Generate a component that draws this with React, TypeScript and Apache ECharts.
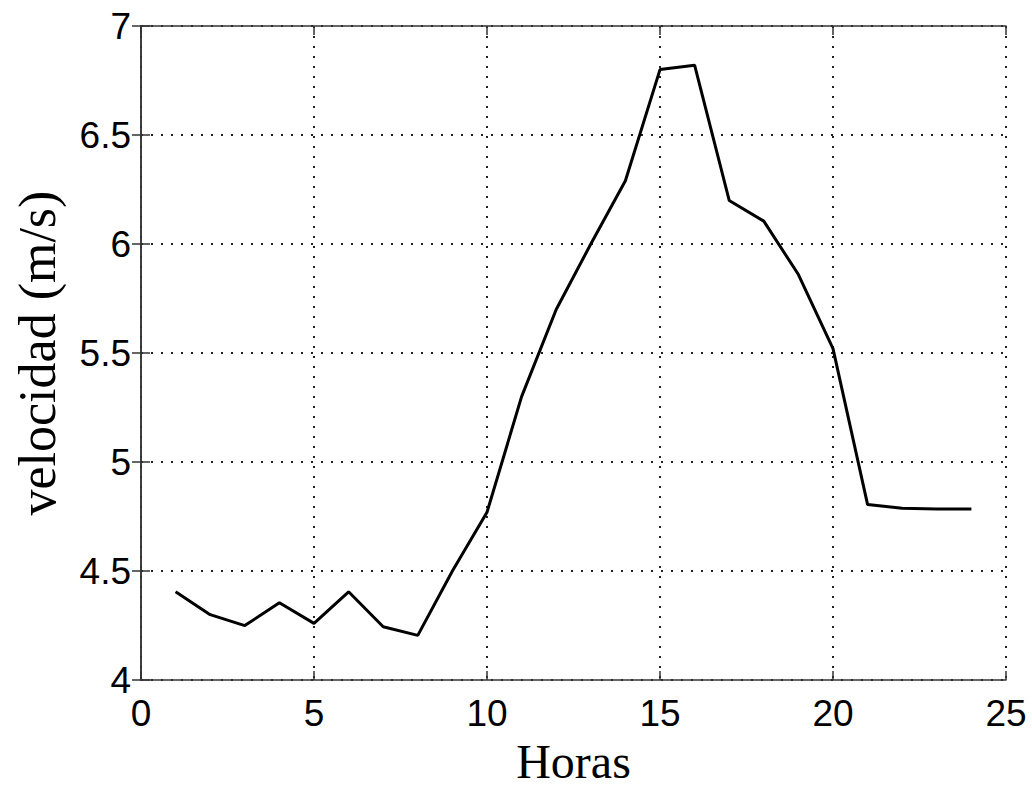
import React, { useEffect, useRef } from "react";
import * as echarts from "echarts";

const hours = [1, 2, 3, 4, 5, 6, 7, 8, 9, 10, 11, 12, 13, 14, 15, 16, 17, 18, 19, 20, 21, 22, 23, 24];
const velocity = [4.405, 4.3, 4.25, 4.355, 4.26, 4.405, 4.245, 4.205, 4.5, 4.77, 5.3, 5.7, 6.0, 6.29, 6.8, 6.82, 6.2, 6.105, 5.86, 5.52, 4.805, 4.788, 4.785, 4.785];
const xTitle = "Horas";
const yTitle = "velocidad (m/s)";

export default function App() {
  const ref = useRef<HTMLDivElement>(null);
  useEffect(() => {
    if (!ref.current) return;
    const chart = echarts.init(ref.current, undefined, { renderer: "svg" });
    const tickFont = { fontFamily: "Liberation Sans, Arial, sans-serif", fontSize: 37, color: "#000" };
    const axisLine = { show: true, lineStyle: { color: "#333", width: 1.5 } };
    const tick = { show: true, inside: true, length: 9, lineStyle: { color: "#333", width: 1.5 } };
    const split = { show: true, lineStyle: { color: "#222", type: [2, 8] as any, width: 2 } };
    chart.setOption({
      animation: false,
      backgroundColor: "#fff",
      grid: { left: 141, right: 26, top: 26, bottom: 105 },
      xAxis: [
        {
          type: "value",
          min: 0,
          max: 25,
          interval: 5,
          position: "bottom",
          axisLine,
          axisTick: tick,
          axisLabel: { ...tickFont, margin: 15 },
          splitLine: split,
          name: xTitle,
          nameLocation: "middle",
          nameGap: 52,
          nameTextStyle: { fontFamily: "Liberation Serif, Times New Roman, serif", fontSize: 48, color: "#000" },
        },
        {
          type: "value",
          min: 0,
          max: 25,
          interval: 5,
          position: "top",
          axisLine,
          axisTick: tick,
          axisLabel: { show: false },
          splitLine: { show: false },
        },
      ],
      yAxis: [
        {
          type: "value",
          min: 4,
          max: 7,
          interval: 0.5,
          position: "left",
          axisLine,
          axisTick: tick,
          axisLabel: { ...tickFont, margin: 10 },
          splitLine: split,
          name: yTitle,
          nameLocation: "middle",
          nameGap: 78,
          nameTextStyle: { fontFamily: "Liberation Serif, Times New Roman, serif", fontSize: 52, color: "#000" },
        },
        {
          type: "value",
          min: 4,
          max: 7,
          interval: 0.5,
          position: "right",
          axisLine,
          axisTick: tick,
          axisLabel: { show: false },
          splitLine: { show: false },
        },
      ],
      series: [
        {
          type: "line",
          data: hours.map((h, i) => [h, velocity[i]]),
          showSymbol: false,
          symbol: "none",
          lineStyle: { color: "#000", width: 3 },
          xAxisIndex: 0,
          yAxisIndex: 0,
        },
      ],
    });
    return () => chart.dispose();
  }, []);
  return (
    <div
      ref={ref}
      style={{ position: "fixed", left: 0, top: 0, width: 1032, height: 790, background: "#fff" }}
    />
  );
}
